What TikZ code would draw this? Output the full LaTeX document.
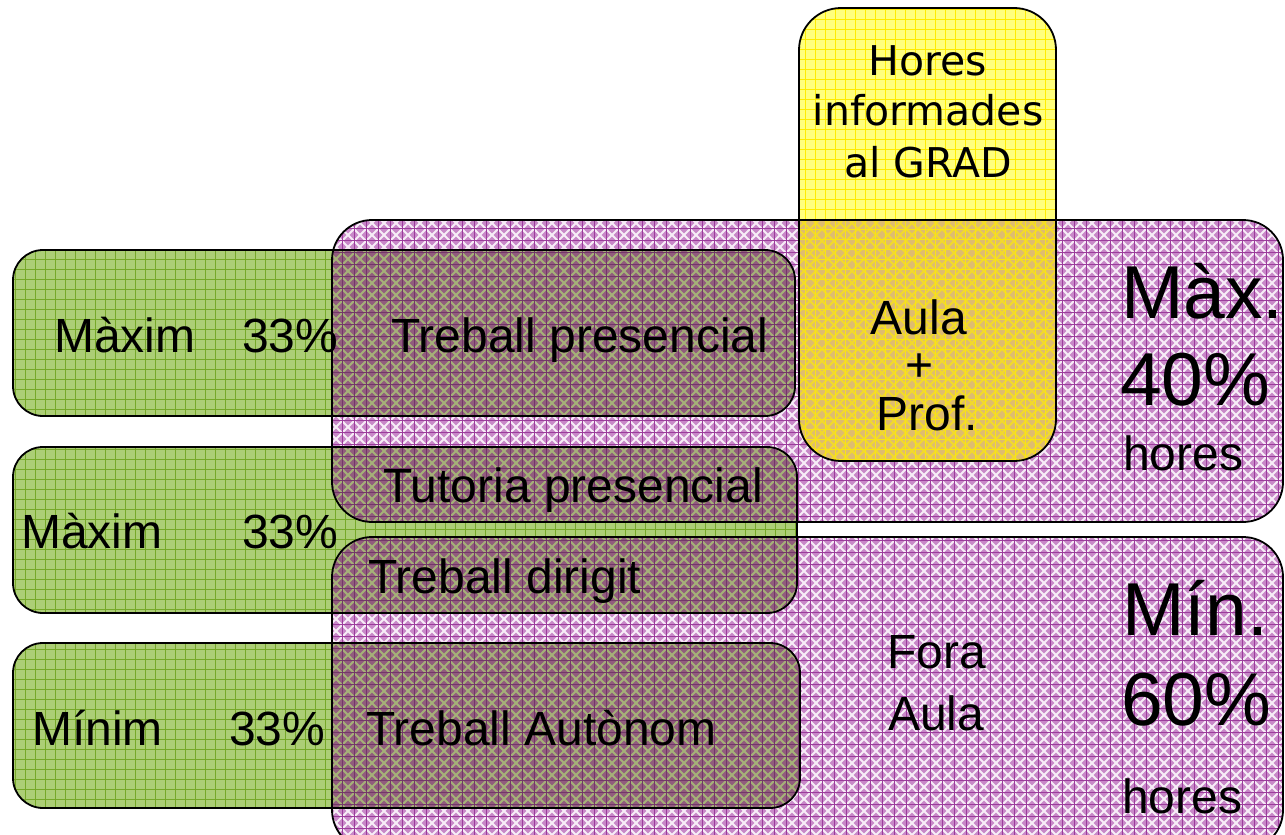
\documentclass[tikz,border=0pt]{standalone}
\usepackage{fontspec}
\setmainfont{Liberation Sans}
\newfontfamily\tahomafont{DejaVu Sans}
\usetikzlibrary{patterns}
\pgfdeclarepatternformonly{gridten}{\pgfqpoint{-1pt}{-1pt}}{\pgfqpoint{11pt}{11pt}}{\pgfqpoint{10pt}{10pt}}{%
  \pgfsetlinewidth{1pt}%
  \pgfpathmoveto{\pgfqpoint{0pt}{5pt}}\pgfpathlineto{\pgfqpoint{10pt}{5pt}}%
  \pgfpathmoveto{\pgfqpoint{5pt}{0pt}}\pgfpathlineto{\pgfqpoint{5pt}{10pt}}%
  \pgfusepath{stroke}}
\pgfdeclarepatternformonly{diagtwelve}{\pgfqpoint{-1pt}{-1pt}}{\pgfqpoint{13pt}{13pt}}{\pgfqpoint{12pt}{12pt}}{%
  \pgfsetlinewidth{1.8pt}%
  \pgfpathmoveto{\pgfqpoint{0pt}{0pt}}\pgfpathlineto{\pgfqpoint{12pt}{12pt}}%
  \pgfpathmoveto{\pgfqpoint{0pt}{12pt}}\pgfpathlineto{\pgfqpoint{12pt}{0pt}}%
  \pgfusepath{stroke}}
\pgfdeclarepatternformonly{crosstwelve}{\pgfqpoint{-1pt}{-1pt}}{\pgfqpoint{13pt}{13pt}}{\pgfqpoint{12pt}{12pt}}{%
  \pgfsetlinewidth{1pt}%
  \pgfpathmoveto{\pgfqpoint{0pt}{6pt}}\pgfpathlineto{\pgfqpoint{12pt}{6pt}}%
  \pgfpathmoveto{\pgfqpoint{6pt}{0pt}}\pgfpathlineto{\pgfqpoint{6pt}{12pt}}%
  \pgfusepath{stroke}}
\definecolor{gbase}{RGB}{172,206,118}
\definecolor{gline}{RGB}{118,168,40}
\definecolor{pbase}{RGB}{200,136,200}
\definecolor{pline}{RGB}{155,60,155}
\definecolor{dbase}{RGB}{145,92,125}
\definecolor{dline}{RGB}{115,55,105}
\definecolor{ybase}{RGB}{255,255,125}
\definecolor{yline}{RGB}{255,236,0}
\definecolor{obase}{RGB}{222,188,112}
\newcommand\GA{(13,250) rectangle (795,416)}
\newcommand\GB{(13,447) rectangle (797,613)}
\newcommand\GC{(13,643) rectangle (800,808)}
\newcommand\PA{(332,220) rectangle (1283,522)}
\newcommand\PB{(332,537) rectangle (1283,850)}
\newcommand\YA{(799,8) rectangle (1056,461)}
\begin{document}
\begin{tikzpicture}[x=1pt,y=-1pt,
  greenfill/.style={fill=gbase, postaction={pattern=gridten, pattern color=gline}},
  purplefill/.style={fill=pbase, postaction={pattern=diagtwelve, pattern color=white!85!pbase}, postaction={pattern=crosstwelve, pattern color=pline}},
  darkfill/.style={fill=dbase, postaction={pattern=diagtwelve, pattern color=gbase!75!dbase}, postaction={pattern=crosstwelve, pattern color=dline}},
  yellowfill/.style={fill=ybase, postaction={pattern=gridten, pattern color=yline}},
  orangefill/.style={fill=obase, postaction={pattern=diagtwelve, pattern color=yline!60!obase}, postaction={pattern=gridten, pattern color=yline!85!obase}},
  border/.style={draw=black, line width=1.8pt},
  gr/.style={rounded corners=30pt},
  pr/.style={rounded corners=40pt},
  yr/.style={rounded corners=42pt},
  lbl/.style={font=\fontsize{48}{54}\selectfont, inner sep=0pt, anchor=base west},
  biglbl/.style={font=\fontsize{75}{80}\selectfont, inner sep=0pt, anchor=base west},
  ylbl/.style={font=\tahomafont\fontsize{41}{50}\selectfont, inner sep=0pt, anchor=base}]
\useasboundingbox (0,0) rectangle (1285,835);
\clip (0,0) rectangle (1285,835);
\fill[white] (0,0) rectangle (1285,835);
% green boxes
\fill[gr, greenfill] \GA;
\fill[gr, greenfill] \GB;
\fill[gr, greenfill] \GC;
% purple boxes
\fill[pr, purplefill] \PA;
\fill[pr, purplefill] \PB;
% overlaps green/purple
\begin{scope}
  \clip[pr] \PA \PB;
  \fill[gr, darkfill] \GA;
  \fill[gr, darkfill] \GB;
  \fill[gr, darkfill] \GC;
\end{scope}
% yellow box
\fill[yr, yellowfill] \YA;
\begin{scope}
  \clip[yr] \YA;
  \fill[pr, orangefill] \PA;
\end{scope}
% borders
\draw[gr, border] \GA;
\draw[gr, border] \GB;
\draw[gr, border] \GC;
\draw[pr, border] \PA;
\draw[pr, border] \PB;
\draw[yr, border] \YA;
% texts
\node[lbl] (m1) at (54,352) {Màxim};
\node[lbl] (p1) at (242,352) {33\%};
\node[lbl] (tp) at (391,352) {Treball presencial};
\node[lbl] (m2) at (21,548) {Màxim};
\node[lbl] (p2) at (242,548) {33\%};
\node[lbl] (tu) at (383,502) {Tutoria presencial};
\node[lbl] (td) at (368,593) {Treball dirigit};
\node[lbl] (m3) at (32,745) {Mínim};
\node[lbl] (p3) at (229,745) {33\%};
\node[lbl] (ta) at (366,745) {Treball Autònom};
\node[ylbl] (h1) at (928,75) {Hores};
\node[ylbl] (h2) at (928,125) {informades};
\node[ylbl] (h3) at (928,177) {al GRAD};
\node[lbl, anchor=base] (au) at (919,334) {Aula};
\node[lbl, anchor=base] (pl) at (920,381) {+};
\node[lbl, anchor=base] (pf) at (927,430) {Prof.};
\node[lbl] (fo) at (887,668) {Fora};
\node[lbl] (fa) at (888,730) {Aula};
\node[biglbl] (mx) at (1121,318) {Màx.};
\node[biglbl] (q4) at (1120,405) {40\%};
\node[lbl] (h4) at (1123,470) {hores};
\node[biglbl] (mn) at (1122,635) {Mín.};
\node[biglbl] (q6) at (1121,725) {60\%};
\node[lbl] (h6) at (1122,813) {hores};
\end{tikzpicture}
\end{document}
